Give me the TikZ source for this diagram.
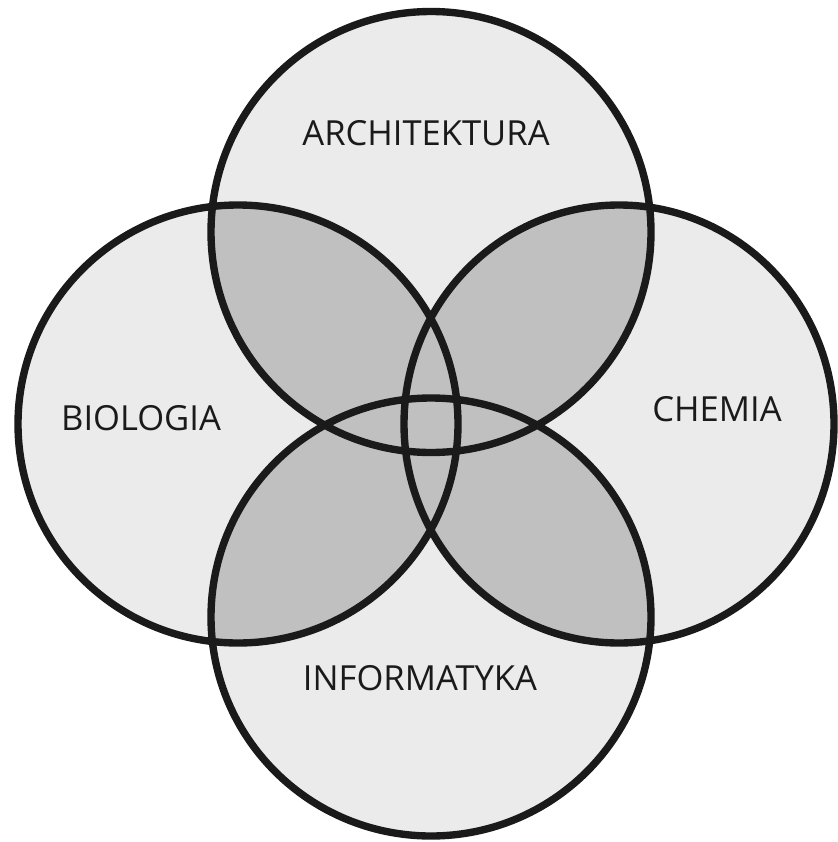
\documentclass[tikz,border=0pt]{standalone}
\usepackage{fontspec}
\setmainfont{Open Sans}
\usetikzlibrary{positioning}
\definecolor{lightfill}{HTML}{EBEBEB}
\definecolor{darkfill}{HTML}{C0C0C0}
\definecolor{rimcolor}{HTML}{1A1A1A}

% field circles
\def\topc{(431,232) ellipse [x radius=220, y radius=220.5]}
\def\leftc{(238,424) ellipse [x radius=220, y radius=219]}
\def\rightc{(619,424) ellipse [x radius=215, y radius=219]}
\def\botc{(431,617) ellipse [x radius=220, y radius=219]}

\begin{document}
\begin{tikzpicture}[x=0.03cm, y=-0.03cm,
  rim/.style={draw=rimcolor, line width=6.3pt},
  field/.style={font=\fontsize{29.5}{32}\selectfont, text=rimcolor}]
\useasboundingbox (0,0) rectangle (837,842);

\fill[lightfill] \topc \leftc \rightc \botc;
\foreach \a/\b in {\topc/\leftc, \topc/\rightc, \botc/\leftc, \botc/\rightc, \topc/\botc, \leftc/\rightc}
{
  \begin{scope}
    \clip \a;
    \fill[darkfill] \b;
  \end{scope}
}
\draw[rim] \topc \leftc \rightc \botc;

\node[field] (arch) at (426,133) {ARCHITEKTURA};
\node[field] (bio)  at (141,418) {BIOLOGIA};
\node[field] (chem) at (717,409) {CHEMIA};
\node[field] (info) at (420,678) {INFORMATYKA};
\end{tikzpicture}
\end{document}
